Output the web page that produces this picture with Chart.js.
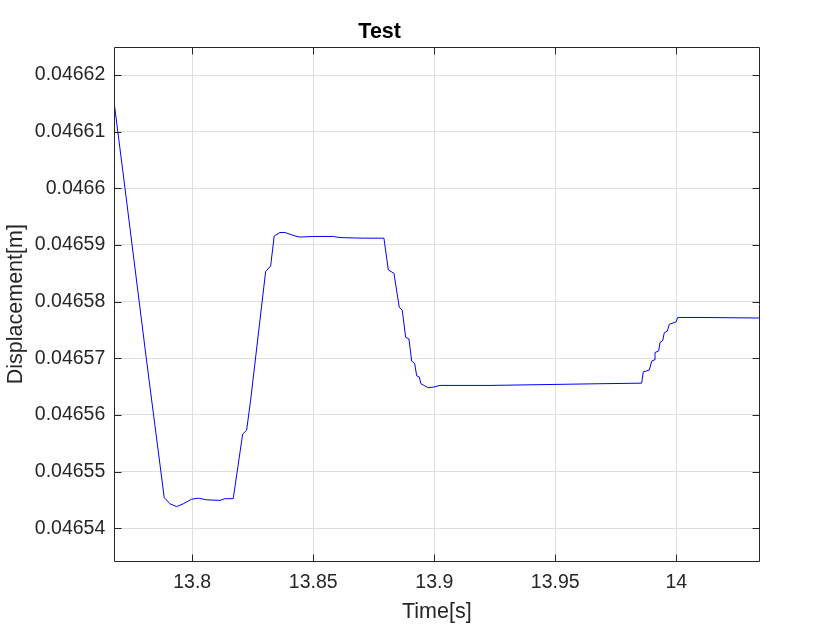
<!DOCTYPE html>
<html>
<head>
<meta charset="utf-8">
<title>Test</title>
<script src="https://cdn.jsdelivr.net/npm/chart.js@4/dist/chart.umd.min.js"></script>
<style>
	html, body { margin: 0; padding: 0; background: #fff; }
	#contenedor { width: 840px; height: 630px; }
</style>
</head>
<body>
<div id="contenedor"><canvas id="grafica"></canvas></div>
<script>

// tiempo [s] y desplazamiento [m]
var tiempo = [
	13.76777, 13.77219, 13.78116, 13.78843, 13.79079, 13.79355, 13.79628, 13.79975,
	13.80248, 13.80595, 13.81145, 13.81351, 13.81694, 13.82083, 13.82248, 13.82413,
	13.83033, 13.83240, 13.83388, 13.83624, 13.83830, 13.84244, 13.84450, 13.85000,
	13.85826, 13.86103, 13.87066, 13.87921, 13.88100, 13.88335, 13.88554, 13.88678,
	13.88818, 13.88955, 13.89066, 13.89190, 13.89273, 13.89380, 13.89450, 13.89657,
	13.89752, 13.89959, 13.90235, 13.92302, 13.96847, 13.98570, 13.98636, 13.98884,
	13.98983, 13.99091, 13.99120, 13.99273, 13.99327, 13.99438, 13.99504, 13.99628,
	13.99711, 13.99988, 14.00058, 14.00979, 14.03460
];
var desplazamiento = [
	0.0466150, 0.0466001, 0.0465695, 0.0465454, 0.0465443, 0.0465438, 0.0465443, 0.0465451,
	0.0465453, 0.0465450, 0.0465449, 0.0465452, 0.0465452, 0.0465566, 0.0465573, 0.0465626,
	0.0465853, 0.0465863, 0.0465916, 0.0465922, 0.0465922, 0.0465916, 0.0465914, 0.0465915,
	0.0465915, 0.0465913, 0.0465912, 0.0465912, 0.0465856, 0.0465850, 0.0465790, 0.0465785,
	0.0465737, 0.0465734, 0.0465695, 0.0465691, 0.0465669, 0.0465667, 0.0465655, 0.0465650,
	0.0465648, 0.0465649, 0.0465652, 0.0465652, 0.0465655, 0.0465656, 0.0465676, 0.0465679,
	0.0465695, 0.0465697, 0.0465710, 0.0465713, 0.0465728, 0.0465731, 0.0465745, 0.0465748,
	0.0465760, 0.0465764, 0.0465772, 0.0465772, 0.0465771
];

var ticksX = [13.8, 13.85, 13.9, 13.95, 14];
var ticksY = [0.04654, 0.04655, 0.04656, 0.04657, 0.04658, 0.04659, 0.0466, 0.04661, 0.04662];

var limitesX = [13.7678, 14.0343];
var limitesY = [0.0465342, 0.0466249];

var colorEjes = '#262626';
var fuente = '"Liberation Sans", Arial, Helvetica, sans-serif';

function etiqueta(valor){
	return String(Number(valor.toFixed(6)));
}

function puntos(){
	var lista = [];
	for (var i = 0; i < tiempo.length; i++) {
		lista.push({x: tiempo[i], y: desplazamiento[i]});
	}
	return lista;
}

// caja y marcas hacia adentro, estilo matlab
var caja = {
	id: 'caja',
	afterDraw: function(chart){
		var ctx = chart.ctx;
		var a = chart.chartArea;
		var izq = Math.round(a.left) + 0.5, der = Math.round(a.right) + 0.5;
		var arr = Math.round(a.top) + 0.5, aba = Math.round(a.bottom) + 0.5;
		var largo = 7;
		ctx.save();
		ctx.strokeStyle = colorEjes;
		ctx.lineWidth = 1;
		ctx.beginPath();
		ctx.rect(izq, arr, der - izq, aba - arr);
		chart.scales.x.ticks.forEach(function(t){
			var px = Math.round(chart.scales.x.getPixelForValue(t.value)) + 0.5;
			ctx.moveTo(px, aba); ctx.lineTo(px, aba - largo);
			ctx.moveTo(px, arr); ctx.lineTo(px, arr + largo);
		});
		chart.scales.y.ticks.forEach(function(t){
			var py = Math.round(chart.scales.y.getPixelForValue(t.value)) + 0.5;
			ctx.moveTo(izq, py); ctx.lineTo(izq + largo, py);
			ctx.moveTo(der, py); ctx.lineTo(der - largo, py);
		});
		ctx.stroke();
		ctx.restore();
	}
};

var grafica = new Chart(document.getElementById('grafica'), {
	type: 'line',
	data: {
		datasets: [{
			label: 'Displacement',
			data: puntos(),
			borderColor: '#0000ff',
			borderWidth: 1,
			pointRadius: 0,
			tension: 0,
			fill: false
		}]
	},
	options: {
		responsive: true,
		maintainAspectRatio: false,
		animation: false,
		layout: { padding: { left: 0, right: 80.7, top: 0, bottom: 0 } },
		plugins: {
			legend: { display: false },
			tooltip: { enabled: false },
			title: {
				display: true,
				text: 'Test',
				color: '#000',
				font: { family: fuente, size: 21.5, weight: 'bold' },
				padding: { top: 19.5, bottom: 2 }
			}
		},
		scales: {
			x: {
				type: 'linear',
				min: limitesX[0],
				max: limitesX[1],
				afterBuildTicks: function(escala){
					escala.ticks = ticksX.map(function(v){ return {value: v}; });
				},
				afterFit: function(escala){ escala.height = 69; },
				grid: { color: '#dfdfdf', drawTicks: false },
				border: { display: false },
				ticks: {
					color: colorEjes,
					font: { family: fuente, size: 19.5 },
					padding: 10,
					maxRotation: 0,
					autoSkip: false,
					callback: function(v){ return etiqueta(v); }
				},
				title: {
					display: true,
					text: 'Time[s]',
					color: colorEjes,
					font: { family: fuente, size: 21.5 },
					padding: { top: 0, bottom: 5 }
				}
			},
			y: {
				type: 'linear',
				min: limitesY[0],
				max: limitesY[1],
				afterBuildTicks: function(escala){
					escala.ticks = ticksY.map(function(v){ return {value: v}; });
				},
				afterFit: function(escala){ escala.width = 114.3; },
				grid: { color: '#dfdfdf', drawTicks: false },
				border: { display: false },
				ticks: {
					color: colorEjes,
					font: { family: fuente, size: 19.5 },
					padding: 9,
					autoSkip: false,
					callback: function(v){ return etiqueta(v); }
				},
				title: {
					display: true,
					text: 'Displacement[m]',
					color: colorEjes,
					font: { family: fuente, size: 21.5 },
					padding: { top: 3, bottom: 0 }
				}
			}
		}
	},
	plugins: [caja]
});
</script>
</body>
</html>
